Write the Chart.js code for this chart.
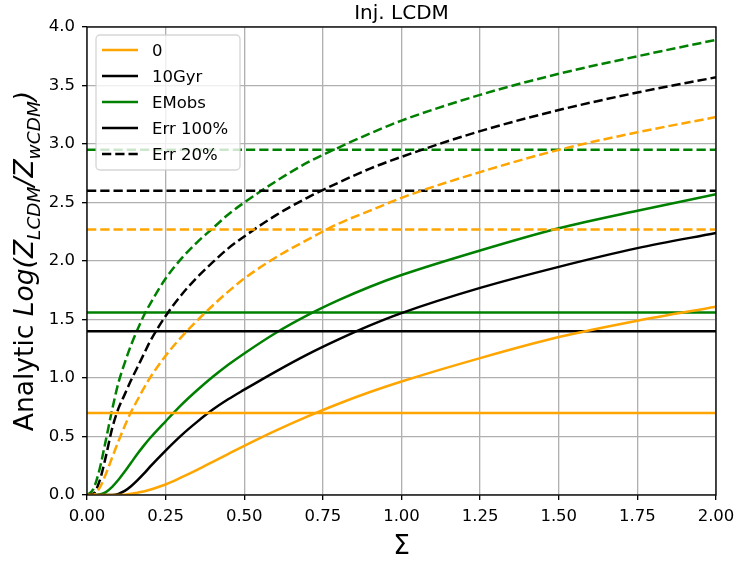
<!DOCTYPE html>
<html>
<head>
<meta charset="utf-8">
<script src="https://cdn.jsdelivr.net/npm/chart.js@4.4.1/dist/chart.umd.min.js"></script>
<style>
    body { margin: 0; background: #fff; }
    #wrap { width: 735px; height: 561px; }
</style>
</head>
<body>
<div id="wrap"><canvas id="chart" width="735" height="561"></canvas></div>
<script>
// Sigma grid shared by all curves
const sigma = [0, 0.02, 0.04, 0.06, 0.08, 0.1, 0.12, 0.14, 0.16, 0.18, 0.2, 0.25, 0.3, 0.35, 0.4, 0.45, 0.5, 0.6, 0.7, 0.8, 0.9, 1.0, 1.25, 1.5, 1.75, 2.0];

// Err 100% (solid)
const zero100  = [0, 0, 0, 0, 0, 0, 0.003, 0.01, 0.02, 0.03, 0.045, 0.09, 0.15, 0.215, 0.283, 0.352, 0.42, 0.55, 0.67, 0.78, 0.88, 0.97, 1.17, 1.35, 1.49, 1.61];
const gyr100   = [0, 0, 0, 0, 0, 0.01, 0.035, 0.075, 0.125, 0.18, 0.24, 0.38, 0.51, 0.625, 0.73, 0.82, 0.9, 1.055, 1.2, 1.33, 1.45, 1.555, 1.77, 1.95, 2.11, 2.24];
const emobs100 = [0, 0, 0.005, 0.025, 0.07, 0.13, 0.2, 0.275, 0.35, 0.42, 0.485, 0.63, 0.77, 0.895, 1.01, 1.115, 1.21, 1.385, 1.535, 1.665, 1.78, 1.88, 2.09, 2.28, 2.43, 2.57];

// Err 20% (dashed)
const zero20   = [0, 0, 0.06, 0.18, 0.32, 0.46, 0.59, 0.71, 0.81, 0.91, 1.0, 1.19, 1.35, 1.49, 1.62, 1.74, 1.85, 2.03, 2.18, 2.32, 2.43, 2.54, 2.76, 2.95, 3.1, 3.23];
const gyr20    = [0, 0.01, 0.12, 0.33, 0.57, 0.74, 0.86, 0.98, 1.09, 1.2, 1.31, 1.53, 1.71, 1.86, 1.99, 2.11, 2.21, 2.39, 2.54, 2.67, 2.79, 2.89, 3.11, 3.29, 3.44, 3.57];
const emobs20  = [0, 0.05, 0.22, 0.47, 0.73, 0.96, 1.13, 1.28, 1.41, 1.53, 1.63, 1.85, 2.02, 2.16, 2.28, 2.4, 2.5, 2.68, 2.84, 2.97, 3.09, 3.2, 3.42, 3.6, 3.75, 3.89];

// horizontal thresholds
const level100 = { zero: 0.7, gyr: 1.4, emobs: 1.56 };
const level20  = { zero: 2.27, gyr: 2.6, emobs: 2.95 };

const xTicks = [0, 0.25, 0.5, 0.75, 1.0, 1.25, 1.5, 1.75, 2.0];
const yTicks = [0, 0.5, 1.0, 1.5, 2.0, 2.5, 3.0, 3.5, 4.0];
const legendLabels = ['0', '10Gyr', 'EMobs', 'Err 100%', 'Err 20%'];

const ORANGE = '#ffa500';
const BLACK = '#000000';
const GREEN = '#008000';
const DASH = [9.25, 4];
const LW = 2.5;

function curve(ys, color, dashed) {
    return {
        data: sigma.map((x, i) => ({ x: x, y: ys[i] })),
        borderColor: color,
        borderWidth: LW,
        borderDash: dashed ? DASH : [],
        pointRadius: 0,
        cubicInterpolationMode: 'monotone',
        fill: false
    };
}

function hline(v, color, dashed) {
    return {
        data: [{ x: xTicks[0], y: v }, { x: xTicks[xTicks.length - 1], y: v }],
        borderColor: color,
        borderWidth: LW,
        borderDash: dashed ? DASH : [],
        pointRadius: 0,
        fill: false
    };
}

const datasets = [
    curve(zero100, ORANGE, false),
    hline(level100.zero, ORANGE, false),
    curve(zero20, ORANGE, true),
    hline(level20.zero, ORANGE, true),
    curve(gyr100, BLACK, false),
    hline(level100.gyr, BLACK, false),
    curve(gyr20, BLACK, true),
    hline(level20.gyr, BLACK, true),
    curve(emobs100, GREEN, false),
    hline(level100.emobs, GREEN, false),
    curve(emobs20, GREEN, true),
    hline(level20.emobs, GREEN, true)
];

const legendStyles = [
    { color: ORANGE, dash: [] },
    { color: BLACK, dash: [] },
    { color: GREEN, dash: [] },
    { color: BLACK, dash: [] },
    { color: BLACK, dash: DASH }
];

const TICK_FONT = { family: 'DejaVu Sans', size: 16.5 };

// frame, title, y label, legend
const decorations = {
    id: 'decorations',
    afterDatasetsDraw(chart) {
        const ctx = chart.ctx;
        const a = chart.chartArea;
        ctx.save();
        ctx.strokeStyle = '#000';
        ctx.lineWidth = 1.33;
        ctx.strokeRect(a.left, a.top, a.right - a.left, a.bottom - a.top);
        ctx.restore();
    },
    afterDraw(chart) {
        const ctx = chart.ctx;
        const a = chart.chartArea;
        ctx.save();

        // title
        ctx.fillStyle = '#000';
        ctx.font = '20px "DejaVu Sans"';
        ctx.textAlign = 'center';
        ctx.textBaseline = 'alphabetic';
        ctx.fillText('Inj. LCDM', (a.left + a.right) / 2, 19);

        // x label
        ctx.font = '26.5px "DejaVu Sans"';
        ctx.fillText('Σ', (a.left + a.right) / 2, 554);

        // y label with italic + subscripts
        const F = 26.5, S = 18.5;
        const parts = [
            { t: 'Analytic ', f: F + 'px "DejaVu Sans"', dy: 0 },
            { t: 'Log(Z', f: 'italic ' + F + 'px "DejaVu Sans"', dy: 0 },
            { t: 'LCDM', f: 'italic ' + S + 'px "DejaVu Sans"', dy: 6.5 },
            { t: '/Z', f: 'italic ' + F + 'px "DejaVu Sans"', dy: 0 },
            { t: 'wCDM', f: 'italic ' + S + 'px "DejaVu Sans"', dy: 6.5 },
            { t: ')', f: 'italic ' + F + 'px "DejaVu Sans"', dy: 0 }
        ];
        let total = 0;
        parts.forEach(p => { ctx.font = p.f; p.w = ctx.measureText(p.t).width; total += p.w; });
        ctx.translate(33, (a.top + a.bottom) / 2);
        ctx.rotate(-Math.PI / 2);
        ctx.textAlign = 'left';
        let x = -total / 2;
        parts.forEach(p => { ctx.font = p.f; ctx.fillText(p.t, x, p.dy); x += p.w; });
        ctx.restore();

        // legend box
        ctx.save();
        const bx = 96, by = 35, bw = 144, bh = 135, r = 4;
        ctx.beginPath();
        ctx.moveTo(bx + r, by);
        ctx.arcTo(bx + bw, by, bx + bw, by + bh, r);
        ctx.arcTo(bx + bw, by + bh, bx, by + bh, r);
        ctx.arcTo(bx, by + bh, bx, by, r);
        ctx.arcTo(bx, by, bx + bw, by, r);
        ctx.closePath();
        ctx.fillStyle = 'rgba(255,255,255,0.8)';
        ctx.fill();
        ctx.strokeStyle = 'rgba(204,204,204,0.8)';
        ctx.lineWidth = 1.33;
        ctx.stroke();

        ctx.font = '16.5px "DejaVu Sans"';
        ctx.textAlign = 'left';
        ctx.textBaseline = 'alphabetic';
        legendLabels.forEach((lab, i) => {
            const cy = 50 + i * 26;
            const st = legendStyles[i];
            ctx.beginPath();
            ctx.setLineDash(st.dash);
            ctx.strokeStyle = st.color;
            ctx.lineWidth = LW;
            ctx.moveTo(102, cy);
            ctx.lineTo(138, cy);
            ctx.stroke();
            ctx.setLineDash([]);
            ctx.fillStyle = '#000';
            ctx.fillText(lab, 152, cy + 6);
        });
        ctx.restore();
    }
};

new Chart(document.getElementById('chart'), {
    type: 'line',
    data: { datasets: datasets },
    options: {
        responsive: false,
        animation: false,
        devicePixelRatio: 1,
        layout: { padding: { left: 0, right: 19, top: 27, bottom: 0 } },
        plugins: { legend: { display: false }, tooltip: { enabled: false }, title: { display: false } },
        scales: {
            x: {
                type: 'linear',
                min: 0, max: 2,
                afterFit: s => { s.height = 66; s.paddingLeft = 0; s.paddingRight = 0; },
                afterBuildTicks: s => { s.ticks = xTicks.map(v => ({ value: v })); },
                border: { display: false },
                grid: { color: '#b0b0b0', lineWidth: 1.33, tickColor: '#000', tickLength: 5, drawTicks: true },
                ticks: { color: '#000', font: TICK_FONT, padding: 7, maxRotation: 0, callback: v => v.toFixed(2) }
            },
            y: {
                type: 'linear',
                min: 0, max: 4,
                afterFit: s => { s.width = 87; s.paddingTop = 0; s.paddingBottom = 0; },
                afterBuildTicks: s => { s.ticks = yTicks.map(v => ({ value: v })); },
                border: { display: false },
                grid: { color: '#b0b0b0', lineWidth: 1.33, tickColor: '#000', tickLength: 5, drawTicks: true },
                ticks: { color: '#000', font: TICK_FONT, padding: 7, callback: v => v.toFixed(1) }
            }
        }
    },
    plugins: [decorations]
});
</script>
</body>
</html>
